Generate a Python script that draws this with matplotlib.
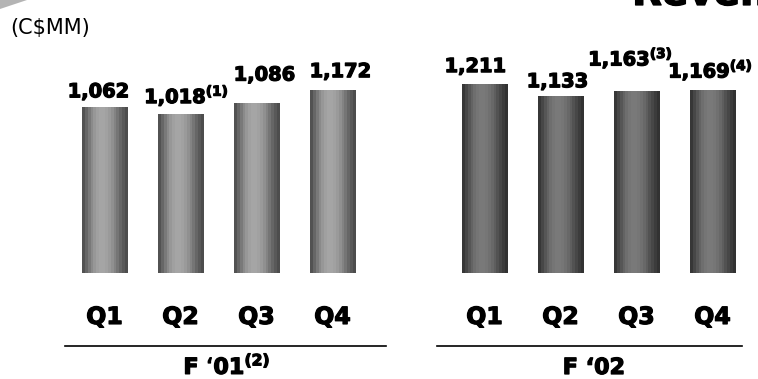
import numpy as np
import matplotlib.pyplot as plt
from matplotlib.patches import Polygon
import matplotlib.transforms as mtransforms
import matplotlib.patheffects as pe

plt.rcParams['font.family'] = 'DejaVu Sans'
plt.rcParams['mathtext.fontset'] = 'dejavusans'
plt.rcParams['mathtext.default'] = 'bf'

# quarterly revenue, C$ millions
quarters = ["Q1", "Q2", "Q3", "Q4"]
rev_f01 = [1062, 1018, 1086, 1172]
rev_f02 = [1211, 1133, 1163, 1169]
notes_f01 = ["", "(1)", "", ""]
notes_f02 = ["", "", "(3)", "(4)"]
years = ["F \u201801", "F \u201802"]
year_notes = ["(2)", ""]

pos_f01 = [0, 1, 2, 3]
pos_f02 = [5, 6, 7, 8]
bar_w = 0.605

# label nudges in pixels (dx, dy above bar top)
off_f01 = [(-6, 10), (6, 11), (8, 23), (8, 13)]
off_f02 = [(-9, 12), (-3, 9), (-6, 26), (-2, 13)]

heavy = [pe.withStroke(linewidth=0.9, foreground='black')]


def shade(dark, light, n=16):
    t = (np.arange(n) + 0.5) / n
    v = dark + (light - dark) * np.sin(np.pi * t ** 0.85) ** 1.3
    return np.repeat(v[None, :, None], 3, axis=2)


def gradient_bars(ax, xs, vals, dark, light):
    img = shade(dark, light)
    for x, v in zip(xs, vals):
        ax.imshow(img, extent=(x - bar_w / 2, x + bar_w / 2, 0, v),
                  aspect='auto', interpolation='nearest', zorder=2)


def value_labels(ax, xs, vals, notes, offs):
    for x, v, n, (dx, dy) in zip(xs, vals, notes, offs):
        s = f"{v:,}"
        if n:
            s += "$^{" + n + "}$"
        ax.annotate(s, xy=(x, v), xytext=(dx, dy), textcoords='offset pixels',
                    ha='center', va='baseline', fontsize=14, fontweight='bold',
                    annotation_clip=False, path_effects=heavy)


fig = plt.figure(figsize=(7.58, 3.79), dpi=100)
W, H = 758, 379
ax = fig.add_axes([36.1 / W, 106 / H, 722 / W, 218.4 / H])

gradient_bars(ax, pos_f01, rev_f01, 0x4a / 255, 0xa6 / 255)
gradient_bars(ax, pos_f02, rev_f02, 0x30 / 255, 0x7a / 255)
value_labels(ax, pos_f01, rev_f01, notes_f01, off_f01)
value_labels(ax, pos_f02, rev_f02, notes_f02, off_f02)

ax.set_xlim(-0.9, 8.6)
ax.set_ylim(0, 1400)
ax.set_xticks(pos_f01 + pos_f02, quarters + quarters)
ax.tick_params(axis='x', length=0, pad=23, labelsize=17)
for lbl in ax.get_xticklabels():
    lbl.set_fontweight('bold')
    lbl.set_path_effects(heavy)
ax.set_yticks([])
for sp in ax.spines.values():
    sp.set_visible(False)

# fiscal year underlines and captions
trans = mtransforms.blended_transform_factory(ax.transData, ax.transAxes)
cap_trans = mtransforms.blended_transform_factory(ax.transData, fig.transFigure)
line_y = -72.7 / 218.4
for (x0, x1), yr, note, cx in zip([(-0.52, 3.70), (4.375, 8.39)], years,
                                  year_notes, [1.61, 6.44]):
    ax.plot([x0, x1], [line_y, line_y], color='black', lw=1.2,
            transform=trans, clip_on=False)
    s = yr + ("$^{" + note + "}$" if note else "")
    ax.text(cx, 5 / H, s, transform=cap_trans, ha='center', va='baseline',
            fontsize=16, fontweight='bold', path_effects=heavy)

fig.text(10 / W, 1 - 34 / H, r"(C\$MM)", fontsize=15, va='baseline')
fig.text(632 / W, 1 - 5 / H, "Revenue", fontsize=28, fontweight='bold',
         va='baseline', path_effects=heavy)
fig.add_artist(Polygon([(0, 1), (27 / W, 1), (0, 1 - 9 / H)], closed=True,
                       transform=fig.transFigure, facecolor='#b4b4b4',
                       edgecolor='none'))

fig.savefig('out.png', dpi=100)
